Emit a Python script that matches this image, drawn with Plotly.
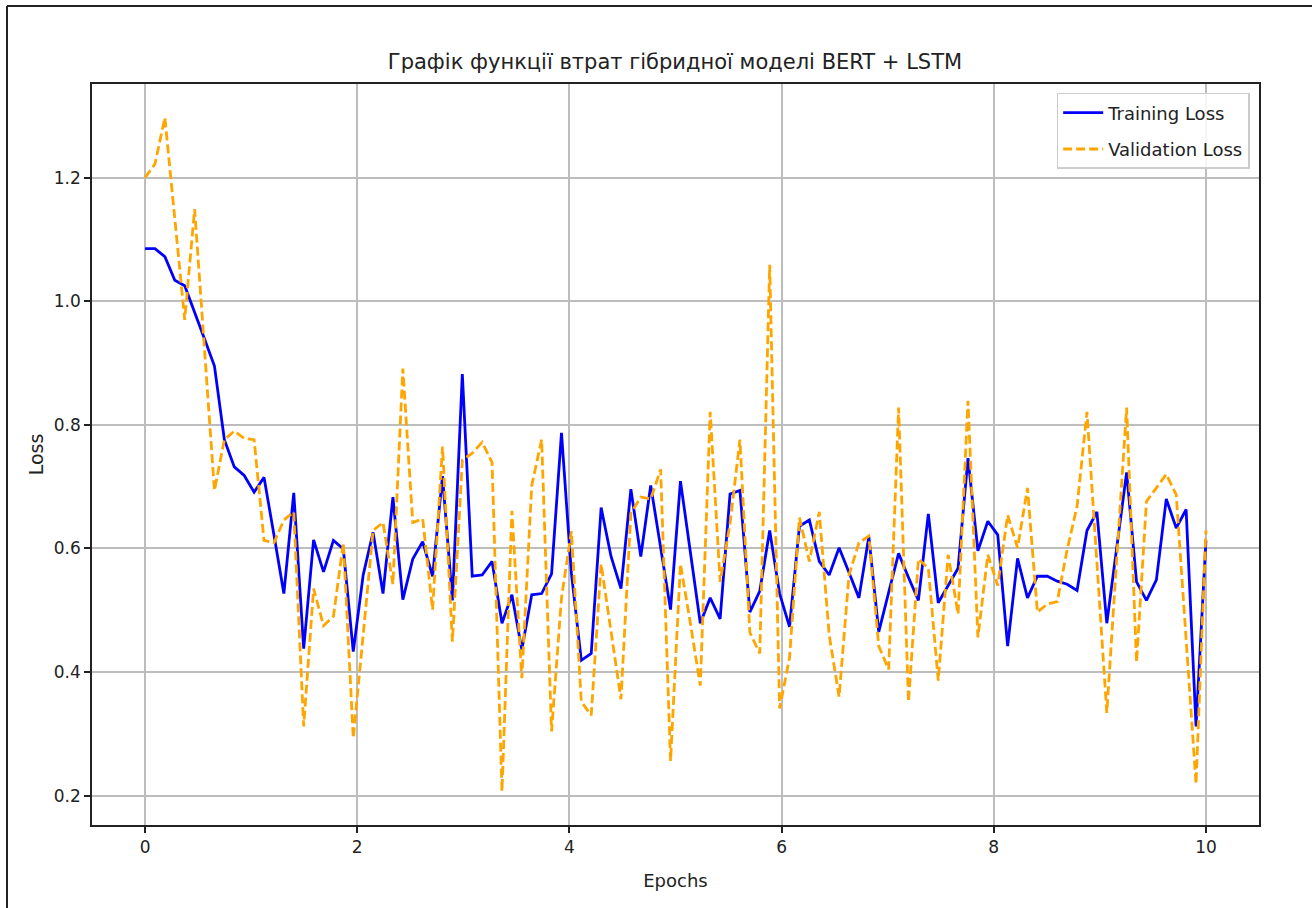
import numpy as np
import plotly.graph_objects as go

train_loss = [
    1.085, 1.085, 1.072, 1.034, 1.025, 0.983, 0.939, 0.895, 0.776, 0.732,
    0.718, 0.691, 0.715, 0.622, 0.527, 0.690, 0.438, 0.614, 0.562, 0.613,
    0.599, 0.433, 0.557, 0.626, 0.527, 0.683, 0.517, 0.583, 0.611, 0.555,
    0.717, 0.516, 0.882, 0.555, 0.557, 0.579, 0.479, 0.525, 0.436, 0.525,
    0.527, 0.559, 0.787, 0.560, 0.419, 0.430, 0.666, 0.587, 0.535, 0.696,
    0.587, 0.702, 0.600, 0.501, 0.709, 0.594, 0.479, 0.520, 0.486, 0.688,
    0.694, 0.497, 0.531, 0.629, 0.527, 0.473, 0.636, 0.646, 0.579, 0.557,
    0.601, 0.561, 0.520, 0.619, 0.465, 0.529, 0.592, 0.553, 0.516, 0.656,
    0.512, 0.540, 0.568, 0.746, 0.596, 0.644, 0.622, 0.442, 0.584, 0.520,
    0.555, 0.555, 0.547, 0.542, 0.532, 0.629, 0.659, 0.479, 0.600, 0.723,
    0.546, 0.516, 0.549, 0.680, 0.633, 0.663, 0.312, 0.613,
]

val_loss = [
    1.200, 1.222, 1.297, 1.130, 0.970, 1.149, 0.920, 0.694, 0.776, 0.790,
    0.778, 0.776, 0.613, 0.609, 0.646, 0.659, 0.312, 0.535, 0.475, 0.490,
    0.609, 0.293, 0.460, 0.629, 0.642, 0.542, 0.891, 0.642, 0.648, 0.501,
    0.765, 0.449, 0.743, 0.754, 0.772, 0.739, 0.207, 0.661, 0.390, 0.702,
    0.776, 0.304, 0.520, 0.628, 0.352, 0.330, 0.575, 0.464, 0.356, 0.657,
    0.683, 0.680, 0.728, 0.256, 0.575, 0.479, 0.378, 0.821, 0.546, 0.640,
    0.776, 0.464, 0.430, 1.059, 0.341, 0.423, 0.650, 0.579, 0.659, 0.460,
    0.360, 0.557, 0.609, 0.620, 0.442, 0.404, 0.828, 0.352, 0.583, 0.568,
    0.386, 0.590, 0.494, 0.839, 0.456, 0.590, 0.540, 0.654, 0.601, 0.698,
    0.497, 0.510, 0.514, 0.598, 0.668, 0.821, 0.575, 0.334, 0.583, 0.828,
    0.416, 0.676, 0.698, 0.720, 0.687, 0.450, 0.219, 0.629,
]

epochs = np.linspace(0, 10, len(train_loss))

x_ticks = [0, 2, 4, 6, 8, 10]
y_ticks = [0.2, 0.4, 0.6, 0.8, 1.0, 1.2]
y_tick_labels = ["0.2", "0.4", "0.6", "0.8", "1.0", "1.2"]

title_text = "Графік функції втрат гібридної моделі BERT + LSTM"

FONT = "DejaVu Sans"

allv = train_loss + val_loss
lo, hi = min(allv), max(allv)
pad = 0.05 * (hi - lo)
yr = [lo - pad, hi + pad]
xr = [-0.5, 10.5]

fig = go.Figure()
fig.add_trace(go.Scatter(
    x=epochs, y=train_loss, mode="lines", name="Training Loss",
    legendgroup="a",
    line=dict(color="#0000ff", width=2.8),
))
fig.add_trace(go.Scatter(
    x=epochs, y=val_loss, mode="lines", name="Validation Loss",
    legendgroup="b",
    line=dict(color="#ffa500", width=2.8, dash="9px,4px"),
))

axis_common = dict(
    showgrid=True, gridcolor="#bdbdbd", gridwidth=1.5,
    showline=True, linecolor="#222222", linewidth=1.5, mirror=True,
    ticks="outside", ticklen=6, tickwidth=1.5, tickcolor="#222222",
    zeroline=False,
    tickfont=dict(family=FONT, size=17, color="#222222"),
)

fig.update_layout(
    width=1312, height=908,
    margin=dict(l=92, r=53, t=84, b=83),
    paper_bgcolor="white", plot_bgcolor="white",
    title=dict(text=title_text, x=675 / 1312, xanchor="center",
               y=1 - 62 / 908, yanchor="middle",
               font=dict(family=FONT, size=21, color="#222222")),
    xaxis=dict(range=xr, tickvals=x_ticks,
               title=dict(text="Epochs", font=dict(family=FONT, size=18, color="#222222"), standoff=18),
               **axis_common),
    yaxis=dict(range=yr, tickvals=y_ticks, ticktext=y_tick_labels,
               title=dict(text="Loss", font=dict(family=FONT, size=19, color="#222222"), standoff=5),
               **axis_common),
    legend=dict(x=0.992, y=0.988, xanchor="right", yanchor="top",
                bgcolor="rgba(255,255,255,0.85)", bordercolor="#cccccc", borderwidth=1.5,
                font=dict(family=FONT, size=18, color="#222222"),
                itemwidth=40, tracegroupgap=10),
    showlegend=True,
)

# outer figure border (left and top edges visible)
fig.add_shape(type="line", xref="paper", yref="paper",
              x0=(7 - 92) / 1167, x1=(7 - 92) / 1167, y0=(825 - 6) / 741, y1=(825 - 910) / 741,
              line=dict(color="#222222", width=2))
fig.add_shape(type="line", xref="paper", yref="paper",
              x0=(7 - 92) / 1167, x1=(1314 - 92) / 1167, y0=(825 - 6) / 741, y1=(825 - 6) / 741,
              line=dict(color="#222222", width=2))

fig.write_html("out.html")
